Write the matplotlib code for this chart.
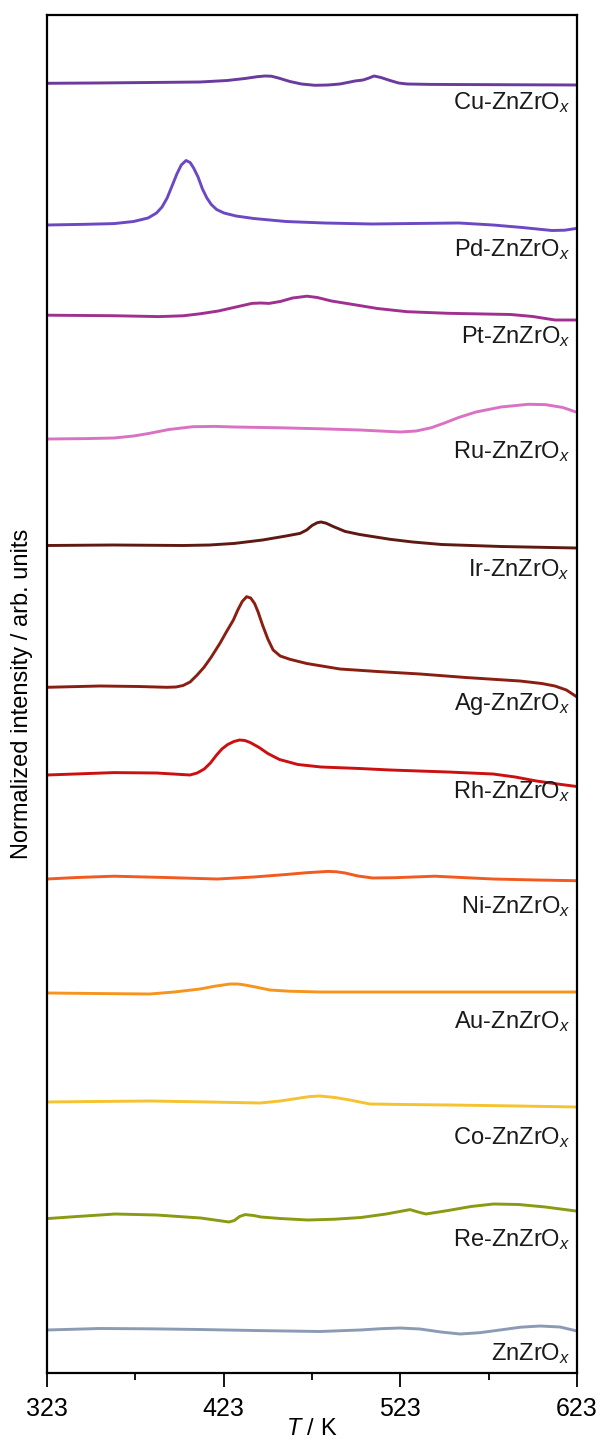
import matplotlib
matplotlib.use("Agg")
import matplotlib.pyplot as plt

plt.rcParams['font.family'] = ['Liberation Sans', 'DejaVu Sans']
plt.rcParams['mathtext.fontset'] = 'custom'
plt.rcParams['mathtext.rm'] = 'Liberation Sans'
plt.rcParams['mathtext.it'] = 'Liberation Sans:italic'

# TPD traces, temperature (K) vs stacked intensity (arb. units)
t_cu = [323, 350, 381.3, 409.6, 425, 435, 442, 446.4, 450, 454, 460.5, 467, 474.7, 482, 488.8, 494, 497.3,
        501.9, 505, 508.1, 512, 517.2, 522, 526.8, 540, 551.1, 580, 623]
i_cu = [1289.7, 1290, 1290.5, 1291, 1292.5, 1294.5, 1296.3, 1297, 1296.8, 1295, 1291.5, 1289, 1287.7, 1288,
        1289, 1290.8, 1292, 1293, 1294.8, 1297, 1295.5, 1292.5, 1290, 1289, 1288.6, 1288.5, 1288.3, 1288]

t_pd = [323, 345, 360.9, 372, 380.2, 385, 388.1, 391, 394, 396.5, 399, 401.7, 404, 406, 408.5, 411, 413.5,
        416, 419, 423.2, 430, 440, 458.3, 480, 507.3, 530, 556.2, 575.5, 592, 608.8, 616, 622.4]
i_pd = [1148, 1148.7, 1149.4, 1151.5, 1155, 1160, 1166, 1175, 1188, 1199, 1208, 1212.5, 1210.5, 1205, 1196,
        1184, 1175, 1168.5, 1163.5, 1160, 1157, 1154.5, 1151.5, 1150, 1149, 1149.5, 1150, 1148, 1145.5,
        1142.5, 1142.8, 1144.5]

t_pt = [323, 360, 386.3, 400, 409.6, 420, 430, 439.0, 444, 448.7, 455, 462, 470.2, 476, 484, 497.3, 510,
        526.8, 550, 585.4, 598, 610.5, 622.4]
i_pt = [1057.8, 1057.3, 1056.4, 1057.2, 1059.2, 1062, 1066, 1069.6, 1070, 1069.6, 1071.5, 1075, 1076.8,
        1075.5, 1072, 1068.2, 1064.5, 1061.3, 1059.7, 1058.5, 1056.5, 1053, 1053]

t_ru = [323, 345, 360.9, 372, 380.2, 392, 405.6, 418, 429.2, 455, 478.1, 500, 522.8, 532, 540.4, 548, 556,
        565.8, 580, 595.3, 605, 615, 622.4]
i_ru = [934, 934.4, 935, 937, 939.4, 943.5, 946.3, 946.6, 946, 945.2, 944.2, 943, 941, 942, 945.2, 950,
        955.5, 961, 966, 968.7, 968.4, 965.5, 961]

t_ir = [323, 360, 400.0, 415, 429.2, 445, 458.3, 466.2, 470, 473, 476, 478.1, 481, 485, 491.7, 500, 517.2,
        530, 546.4, 580, 622.4]
i_ir = [827.5, 828, 827.5, 828, 829.6, 833, 837, 839.6, 843, 847.5, 850.3, 851, 849.8, 846.5, 841.6, 838.5,
        833.7, 831, 828.5, 826.5, 825]

t_ag = [323, 353.0, 375, 390.8, 396, 400, 404, 408, 412, 416, 420.9, 424.5, 428.5, 431, 433.5, 436.0,
        438.3, 440.5, 442.5, 445, 448, 451, 455, 460.5, 470, 488.8, 510, 534.1, 560, 590.7, 603, 610.5,
        617, 623]
i_ag = [685.7, 687, 686.5, 685.7, 686, 687.5, 691, 698, 706, 716, 729.7, 741, 753, 763, 771.5, 776.3,
        775, 769.5, 761, 748, 734, 723, 717, 713.7, 709.5, 704, 701.5, 699, 695.5, 692, 689.5, 687,
        683, 676]

t_rh = [323, 360.9, 385, 403.9, 408, 412, 415.5, 419, 422, 425.3, 428.8, 432, 435, 438, 443.0, 448, 454.6,
        465, 478.1, 500, 517.2, 550, 575.5, 588, 600, 612, 622.4]
i_rh = [598, 600.4, 600, 598, 600, 604, 610, 618, 624, 628.5, 631.5, 633, 632.5, 630.5, 625.6, 619.5,
        613.5, 608.5, 606, 604.5, 603, 601, 599, 596, 592, 589, 586.6]

t_ni = [323, 340, 360.9, 390, 419.5, 440, 458.3, 470, 482.1, 487, 491.7, 499, 507.3, 520, 542.5, 560,
        575.5, 600, 622.4]
i_ni = [494, 495.5, 496.8, 495.5, 494, 496, 498.5, 500.3, 501.6, 501.2, 500, 497, 495, 495.3, 496.8, 495.3,
        494, 493, 492.3]

t_au = [323, 350, 381.3, 395, 409.6, 418, 426.6, 431, 435.1, 441, 449.2, 460, 477.5, 520, 580, 623]
i_au = [380, 379.5, 379, 381, 384, 386.8, 389, 389, 388, 386, 383, 381.8, 381, 381, 381, 381]

t_co = [323, 350, 381.3, 415, 443.6, 455, 466.2, 472, 477.5, 486, 494.5, 500, 505.8, 525, 551.1, 590, 623]
i_co = [271, 271.5, 272, 271, 270, 272, 275, 276.5, 277, 275.5, 273, 271, 269, 268.5, 268, 267, 266]

t_re = [323, 340, 361.5, 385, 410, 426.0, 429, 432, 435.1, 440, 444.1, 455, 470.7, 486, 500.7, 515, 528.5,
        533, 537.5, 550, 563, 575.8, 590, 605, 622.4]
i_re = [154.4, 156.5, 159, 158, 155, 151, 152.5, 156.5, 158.4, 157.5, 156, 154.5, 153, 153.8, 155.5, 159,
        163.4, 161, 159, 162.5, 166.5, 169, 168.5, 166, 162]

t_zn = [323, 353.0, 380, 409.6, 440, 477.5, 500.2, 512, 522.8, 534.1, 546, 556.8, 568, 579.4, 591, 602.1,
        613.4, 623]
i_zn = [43, 44.5, 44.2, 43.5, 42.5, 41.5, 43, 44.3, 45, 44, 41, 39, 40.3, 43, 45.8, 47, 46, 42]

names = ['Cu-ZnZrO$_x$', 'Pd-ZnZrO$_x$', 'Pt-ZnZrO$_x$', 'Ru-ZnZrO$_x$', 'Ir-ZnZrO$_x$', 'Ag-ZnZrO$_x$',
         'Rh-ZnZrO$_x$', 'Ni-ZnZrO$_x$', 'Au-ZnZrO$_x$', 'Co-ZnZrO$_x$', 'Re-ZnZrO$_x$', 'ZnZrO$_x$']
temps = [t_cu, t_pd, t_pt, t_ru, t_ir, t_ag, t_rh, t_ni, t_au, t_co, t_re, t_zn]
ints = [i_cu, i_pd, i_pt, i_ru, i_ir, i_ag, i_rh, i_ni, i_au, i_co, i_re, i_zn]

colors = ['#6b3a9e', '#6d48c3', '#a0308f', '#da72c3', '#5e1a12', '#8b1e12',
          '#cc0f0f', '#f25a1f', '#f7941d', '#f5c230', '#8a9a12', '#8b9bb4']
label_y = [1264, 1117, 1030, 915, 797, 663, 575, 460, 345, 229, 127, 13]

fig = plt.figure(figsize=(6.01, 14.43), dpi=100)
ax = fig.add_axes([47 / 601, 70 / 1443, 530 / 601, 1358 / 1443])

for t, i, c, n, ly in zip(temps, ints, colors, names, label_y):
    ax.plot(t, i, color=c, lw=2.1, solid_joinstyle='round', solid_capstyle='round')
    ax.text(619, ly, n, ha='right', va='baseline', fontsize=17, color='#1a1a1a')

ax.set_xlim(323, 623)
ax.set_ylim(0, 1358)
ax.set_xticks([323, 423, 523, 623])
ax.set_xticks([373, 473, 573], minor=True)
ax.set_yticks([])
ax.tick_params(axis='x', which='major', length=10, width=1.3, labelsize=18, pad=7)
ax.tick_params(axis='x', which='minor', length=5, width=1.3)
for s in ax.spines.values():
    s.set_linewidth(1.6)
ax.set_xlabel('$T$ / K', fontsize=17, labelpad=-2)
ax.set_ylabel('Normalized intensity / arb. units', fontsize=17, labelpad=10)

fig.savefig('out.png', dpi=100)
